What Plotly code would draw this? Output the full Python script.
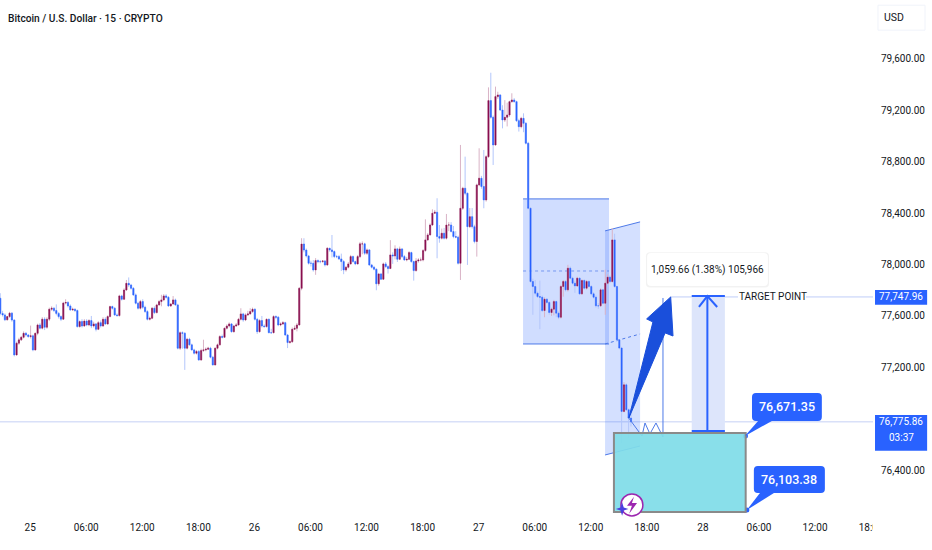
# BTCUSD 15 min chart with drawn target setup
import plotly.graph_objects as go

FONT = "Roboto"
TEXT = "#131722"
BLUE = "#2962ff"
LINE_BLUE = "#4d79e8"
UP = "#880e4f"
UP_WICK = "#d9b3c6"
DOWN = "#2962ff"
DOWN_WICK = "#b3c6fb"

first_open = 77738
closes = [
    77620, 77608, 77570, 77595, 77622, 77568, 77297, 77388, 77414, 77434,
    77465, 77452, 77440, 77445, 77336, 77465, 77530, 77505, 77575, 77512,
    77575, 77652, 77660, 77642, 77620, 77595, 77575, 77700, 77705, 77678,
    77647, 77652, 77642, 77517, 77556, 77522, 77560, 77530, 77564, 77522,
    77538, 77496, 77548, 77522, 77574, 77538, 77595, 77673, 77660, 77608,
    77603, 77756, 77730, 77802, 77854, 77841, 77815, 77764, 77699, 77660,
    77712, 77668, 77634, 77574, 77582, 77660, 77626, 77686, 77712, 77725,
    77756, 77745, 77678, 77693, 77725, 77686, 77349, 77470, 77465, 77349,
    77419, 77375, 77336, 77310, 77323, 77258, 77331, 77336, 77341, 77349,
    77279, 77219, 77349, 77375, 77440, 77434, 77504, 77522, 77538, 77478,
    77522, 77530, 77574, 77616, 77569, 77608, 77616, 77634, 77652, 77574,
    77478, 77564, 77522, 77517, 77574, 77470, 77470, 77595, 77590, 77530,
    77538, 77548, 77452, 77393, 77400, 77496, 77504, 77530, 77815, 78160,
    78113, 78067, 78010, 78010, 77958, 78031, 78023, 78023, 78028, 77997,
    78127, 78114, 78101, 78062, 78062, 78044, 78023, 77958, 77979, 78005,
    78062, 78023, 78005, 78062, 78161, 78161, 78088, 78114, 77997, 77979,
    77964, 77850, 77927, 77886, 78005, 77984, 77969, 78075, 78067, 78122,
    78041, 78122, 78062, 78036, 78041, 78093, 78023, 77953, 78028, 78036,
    78036, 78109, 78192, 78231, 78308, 78399, 78407, 78218, 78205, 78244,
    78205, 78308, 78308, 78257, 78218, 78213, 78010, 78438, 78594, 78555,
    78295, 78373, 78295, 78179, 78620, 78672, 78607, 78503, 78840, 79276,
    79146, 78931, 79307, 79320, 79203, 79125, 79146, 79164, 79268, 79281,
    79268, 79120, 79073, 79138, 79099, 78944, 78438, 77868, 77829, 77777,
    77751, 77746, 77642, 77730, 77705, 77627, 77653, 77712, 77622, 77590,
    77829, 77868, 77803, 77972, 77894, 77855, 77834, 77894, 77772, 77876,
    77816, 77868, 77829, 77772, 77746, 77679, 77679, 77803, 77699, 77855,
    77902, 77868, 78192, 77829, 77414, 77350, 76857, 77064, 76870, 76805, 76776,
]
highs = [
    77777, 77640, 77620, 77600, 77632, 77630, 77575, 77400, 77430, 77445,
    77480, 77475, 77460, 77525, 77455, 77470, 77540, 77545, 77590, 77590,
    77590, 77665, 77675, 77670, 77690, 77630, 77605, 77710, 77730, 77715,
    77690, 77665, 77660, 77650, 77565, 77575, 77575, 77575, 77575, 77600,
    77555, 77545, 77560, 77565, 77590, 77590, 77605, 77680, 77680, 77670,
    77620, 77765, 77765, 77815, 77880, 77900, 77850, 77825, 77775, 77710,
    77725, 77730, 77680, 77645, 77595, 77670, 77675, 77695, 77725, 77765,
    77770, 77770, 77755, 77700, 77755, 77735, 77695, 77480, 77480, 77475,
    77430, 77430, 77385, 77345, 77335, 77335, 77345, 77415, 77355, 77360,
    77360, 77290, 77355, 77385, 77450, 77455, 77510, 77535, 77550, 77545,
    77530, 77545, 77585, 77660, 77625, 77620, 77640, 77660, 77665, 77660,
    77585, 77575, 77600, 77535, 77580, 77580, 77500, 77605, 77605, 77600,
    77550, 77560, 77555, 77460, 77410, 77510, 77525, 77545, 77825, 78205,
    78205, 78125, 78075, 78030, 78035, 78050, 78040, 78035, 78035, 78035,
    78135, 78125, 78230, 78110, 78075, 78075, 78085, 78035, 77990, 78020,
    78075, 78070, 78030, 78075, 78175, 78180, 78170, 78125, 78120, 78005,
    77990, 77970, 77935, 77935, 78015, 78020, 77995, 78190, 78095, 78150,
    78130, 78140, 78125, 78075, 78060, 78105, 78100, 78030, 78050, 78050,
    78055, 78120, 78352, 78245, 78320, 78430, 78425, 78516, 78308, 78280,
    78285, 78394, 78330, 78330, 78300, 78260, 78225, 78931, 78605, 78840,
    78560, 78440, 78440, 78310, 78630, 78905, 78690, 78892, 78850, 79379,
    79493, 79160, 79385, 79345, 79325, 79240, 79280, 79260, 79275, 79333,
    79295, 79275, 79135, 79150, 79177, 79110, 78955, 78445, 77890, 77880,
    77790, 77875, 77760, 77745, 77740, 77715, 77665, 77725, 77720, 77635,
    77840, 77880, 77880, 77998, 77985, 77905, 77875, 77905, 77900, 77885,
    77885, 77880, 77880, 77840, 77785, 77760, 77700, 77815, 77810, 77960,
    77925, 77915, 78283, 78240, 77835, 77420, 77360, 77085, 77075, 76880, 76880,
]
lows = [
    77605, 77595, 77560, 77565, 77585, 77555, 77285, 77290, 77375, 77405,
    77425, 77440, 77430, 77425, 77325, 77330, 77450, 77495, 77495, 77490,
    77500, 77560, 77640, 77630, 77605, 77580, 77560, 77570, 77690, 77665,
    77640, 77640, 77630, 77510, 77510, 77510, 77515, 77520, 77520, 77505,
    77510, 77480, 77490, 77510, 77515, 77530, 77530, 77590, 77650, 77600,
    77595, 77595, 77720, 77725, 77795, 77825, 77805, 77755, 77690, 77650,
    77650, 77655, 77625, 77565, 77565, 77575, 77615, 77620, 77680, 77675,
    77715, 77735, 77670, 77670, 77690, 77680, 77340, 77335, 77345, 77180,
    77340, 77370, 77330, 77300, 77300, 77250, 77250, 77320, 77325, 77335,
    77270, 77215, 77215, 77340, 77370, 77425, 77430, 77495, 77510, 77470,
    77470, 77515, 77525, 77565, 77555, 77560, 77600, 77610, 77625, 77565,
    77460, 77470, 77510, 77510, 77510, 77465, 77460, 77465, 77575, 77520,
    77520, 77530, 77445, 77350, 77385, 77390, 77490, 77480, 77525, 77800,
    78095, 78055, 78000, 77985, 77945, 77920, 78010, 78010, 78015, 77985,
    77990, 78100, 78055, 78050, 78050, 78035, 77950, 77925, 77945, 77970,
    78000, 78015, 77995, 78000, 78050, 78080, 78075, 78075, 77990, 77970,
    77955, 77800, 77835, 77880, 77880, 77975, 77930, 77965, 78005, 78040,
    78020, 78035, 78050, 78030, 78025, 78035, 78015, 77875, 77945, 78015,
    78025, 78025, 78100, 78185, 78225, 78300, 78395, 78049, 78170, 78195,
    78195, 78195, 78260, 78250, 78205, 78205, 78000, 77880, 78425, 78540,
    77997, 78285, 78280, 78165, 78062, 78610, 78590, 78438, 78490, 78830,
    79135, 78775, 78925, 79290, 79195, 79060, 79110, 79075, 79150, 79260,
    79260, 79110, 79035, 79060, 79030, 78935, 78430, 77860, 77609, 77760,
    77740, 77497, 77630, 77590, 77695, 77610, 77600, 77605, 77590, 77575,
    77580, 77750, 77790, 77790, 77885, 77845, 77780, 77825, 77765, 77765,
    77805, 77805, 77820, 77760, 77735, 77665, 77655, 77670, 77690, 77609,
    77845, 77855, 77860, 77820, 77400, 77340, 76610, 76850, 76860, 76650, 76740,
]
opens = [first_open] + closes[:-1]
bars = list(range(len(closes)))

x_tick_bars = [12.8, 36.8, 60.8, 84.8, 108.8, 132.8, 156.8, 180.8, 204.8, 228.8,
               252.8, 276.8, 300.8, 324.8, 348.8, 372.8]
x_tick_text = ["25", "06:00", "12:00", "18:00", "26", "06:00", "12:00", "18:00", "27",
               "06:00", "12:00", "18:00", "28", "06:00", "12:00", "18:00"]
y_ticks = [79600, 79200, 78800, 78400, 78000, 77600, 77200, 76400]

last_price = 76775.86
target_price = 77747.96

# drawings on the chart
box_bars = [223.8, 260.6]
box_prices = [77382, 77950, 78511]
channel_bars = [258.9, 273.9]
channel_top = [78262, 78332]
channel_mid = [77382, 77460]
channel_bottom = [76518, 76588]
target_bars = [296.0, 302.7, 310.2]
target_prices = [76705, 77755]
chevron_bars = [299.1, 302.7, 306.9]
chevron_prices = [77670, 77755, 77670]
target_line_bars = [[287.0, 296.0], [310.2, 315.8], [344.9, 373.6]]
teal_bars = [262.7, 319.1]
teal_prices = [76075, 76690]
arrow_bars = [269.1, 284.6, 288.0, 287.0, 276.7, 279.4, 269.1]
arrow_prices = [76806, 77468, 77444, 77748, 77577, 77553, 76806]
zigzag_bars = [268.7, 274.7, 276.0, 278.1, 280.7, 283.7, 283.7]
zigzag_prices = [76814, 76666, 76767, 76682, 76767, 76658, 77740]
dot_bars = [319.0, 319.6]
dot_prices = [76666, 76090]
callout_values = ["76,671.35", "76,103.38"]
callout_bars = [[321.8, 351.7], [322.6, 353.0]]
callout_prices = [[76783, 77001], [76223, 76433]]
callout_tails = [[324.4, 330.3, 318.8], [325.2, 331.2, 319.6]]
callout_tail_prices = [[76783, 76783, 76666], [76223, 76223, 76090]]
tooltip_bars = [276.9, 328.6]
tooltip_prices = [77833, 78090]
icon_bars = [265.7, 275.1]
icon_prices = [76044, 76215]
bolt_bars = [271.3, 268.3, 270.4, 269.2, 272.6, 270.4, 271.3]
bolt_prices = [76192, 76122, 76122, 76060, 76145, 76145, 76192]
star_bars = [266.2, 266.9, 268.9, 266.9, 266.2, 265.5, 263.5, 265.5, 266.2]
star_prices = [76150, 76110, 76098, 76086, 76046, 76086, 76098, 76110, 76150]


def rounded(x0, x1, y0, y1, rx=1.7, ry=31):
    return (f"M {x0+rx} {y0} L {x1-rx} {y0} Q {x1} {y0} {x1} {y0+ry} L {x1} {y1-ry} "
            f"Q {x1} {y1} {x1-rx} {y1} L {x0+rx} {y1} Q {x0} {y1} {x0} {y1-ry} "
            f"L {x0} {y0+ry} Q {x0} {y0} {x0+rx} {y0} Z")


def polygon(xs, ys):
    pts = " L ".join(f"{x} {y}" for x, y in zip(xs, ys))
    return f"M {pts} Z"


fig = go.Figure()

# wicks first, then the bodies on top in the stronger colours
fig.add_trace(go.Candlestick(
    x=bars, open=opens, high=highs, low=lows, close=closes,
    whiskerwidth=0,
    increasing=dict(line=dict(color=UP_WICK, width=1), fillcolor=UP_WICK),
    decreasing=dict(line=dict(color=DOWN_WICK, width=1), fillcolor=DOWN_WICK),
))
fig.add_trace(go.Candlestick(
    x=bars, open=opens, close=closes,
    high=[max(o, c) for o, c in zip(opens, closes)],
    low=[min(o, c) for o, c in zip(opens, closes)],
    whiskerwidth=0,
    increasing=dict(line=dict(color=UP, width=0.4), fillcolor=UP),
    decreasing=dict(line=dict(color=DOWN, width=0.4), fillcolor=DOWN),
))

fig.add_trace(go.Scatter(x=zigzag_bars, y=zigzag_prices, mode="lines",
                         line=dict(color=LINE_BLUE, width=1)))
fig.add_trace(go.Scatter(x=arrow_bars, y=arrow_prices, mode="lines", fill="toself",
                         fillcolor="#1a4fdb", line=dict(color="#1a4fdb", width=1)))

shapes = []
# current price line
shapes.append(dict(type="line", layer="below", x0=0, x1=1, xref="paper", y0=last_price, y1=last_price,
                   line=dict(color="#c5d0f5", width=1)))
# blue box
shapes.append(dict(type="rect", layer="below", x0=box_bars[0], x1=box_bars[1], y0=box_prices[0], y1=box_prices[2],
                   fillcolor="rgba(41,98,255,0.22)", line=dict(width=0)))
for p, dash, w in zip(box_prices, ["solid", "3px,3px", "solid"], [1, 0.7, 1]):
    shapes.append(dict(type="line", layer="below", x0=box_bars[0], x1=box_bars[1], y0=p, y1=p,
                       line=dict(color=LINE_BLUE, width=w, dash=dash)))
# channel
shapes.append(dict(type="path", layer="below", fillcolor="rgba(41,98,255,0.2)", line=dict(width=0),
                   path=polygon([channel_bars[0], channel_bars[1], channel_bars[1], channel_bars[0]],
                                [channel_top[0], channel_top[1], channel_bottom[1], channel_bottom[0]])))
for ends, dash in zip([channel_top, channel_mid, channel_bottom], ["solid", "3px,3px", "solid"]):
    shapes.append(dict(type="line", layer="below", x0=channel_bars[0], x1=channel_bars[1], y0=ends[0], y1=ends[1],
                       line=dict(color=LINE_BLUE, width=1, dash=dash)))
# long position block
shapes.append(dict(type="rect", layer="below", x0=target_bars[0], x1=target_bars[2],
                   y0=target_prices[0], y1=target_prices[1], fillcolor="#dde5fb", line=dict(width=0)))
shapes.append(dict(type="line", x0=target_bars[1], x1=target_bars[1], y0=target_prices[0], y1=target_prices[1],
                   line=dict(color=BLUE, width=2)))
for p in target_prices:
    shapes.append(dict(type="line", x0=target_bars[0], x1=target_bars[2], y0=p, y1=p,
                       line=dict(color=BLUE, width=2)))
shapes.append(dict(type="path", path=f"M {chevron_bars[0]} {chevron_prices[0]} L {chevron_bars[1]} {chevron_prices[1]} L {chevron_bars[2]} {chevron_prices[2]}",
                   line=dict(color=BLUE, width=2)))
for seg in target_line_bars:
    shapes.append(dict(type="line", layer="below", x0=seg[0], x1=seg[1], y0=target_price, y1=target_price,
                       line=dict(color="#bfcdf8", width=1)))
# teal box
shapes.append(dict(type="rect", x0=teal_bars[0], x1=teal_bars[1], y0=teal_prices[0], y1=teal_prices[1],
                   fillcolor="rgba(128,221,232,0.93)", line=dict(color="#8a8a8a", width=2)))
# callouts
for i in range(2):
    shapes.append(dict(type="path", fillcolor=BLUE, line=dict(width=0),
                       path=polygon(callout_tails[i], callout_tail_prices[i])))
    shapes.append(dict(type="path", fillcolor=BLUE, line=dict(width=0),
                       path=rounded(callout_bars[i][0], callout_bars[i][1], callout_prices[i][0], callout_prices[i][1])))
# tooltip, a soft shadow then the box
shapes.append(dict(type="path", fillcolor="rgba(0,0,0,0.05)", line=dict(width=0),
                   path=rounded(tooltip_bars[0] - 0.5, tooltip_bars[1] + 0.5, tooltip_prices[0] - 12, tooltip_prices[1] + 5)))
shapes.append(dict(type="path", fillcolor="white", line=dict(width=0),
                   path=rounded(tooltip_bars[0], tooltip_bars[1], tooltip_prices[0], tooltip_prices[1])))
# lightning icon
shapes.append(dict(type="circle", x0=icon_bars[0], x1=icon_bars[1], y0=icon_prices[0], y1=icon_prices[1],
                   fillcolor="white", line=dict(color="#9c27b0", width=1.5)))
shapes.append(dict(type="path", path=polygon(bolt_bars, bolt_prices), fillcolor="#9c27b0", line=dict(width=0)))
shapes.append(dict(type="path", path=polygon(star_bars, star_prices), fillcolor="#4a3fe0", line=dict(width=0)))
# right scale labels
shapes.append(dict(type="rect", xref="paper", x0=1.0023, x1=1.062, y0=77688, y1=77802,
                   fillcolor=BLUE, line=dict(width=0)))
shapes.append(dict(type="rect", xref="paper", x0=1.0023, x1=1.062, y0=76550, y1=76830,
                   fillcolor=BLUE, line=dict(width=0)))
shapes.append(dict(type="rect", xref="paper", yref="paper", x0=1.0057, x1=1.0596, y0=0.942, y1=0.99,
                   fillcolor="white", line=dict(color="#f0f3fa", width=1)))
# the price scale panel cuts the last time label
shapes.append(dict(type="rect", xref="paper", yref="paper", x0=1.0, x1=1.04, y0=-0.058, y1=0,
                   fillcolor="white", line=dict(width=0)))

fig.add_trace(go.Scatter(x=dot_bars, y=dot_prices, mode="markers",
                         marker=dict(color=BLUE, size=5)))

annotations = [
    dict(x=6 / 873, y=0.965, xref="paper", yref="paper", text="Bitcoin / U.S. Dollar · 15 · CRYPTO",
         xanchor="left", yanchor="middle", showarrow=False, font=dict(size=10.2, weight=500, color=TEXT, family=FONT)),
    dict(x=894 / 873, y=0.966, xref="paper", yref="paper", text="USD", xanchor="center", yanchor="middle", showarrow=False,
         font=dict(size=10.5, color=TEXT, family=FONT)),
    dict(x=sum(tooltip_bars) / 2, y=sum(tooltip_prices) / 2, text="1,059.66 (1.38%) 105,966", showarrow=False,
         font=dict(size=10, color=TEXT, family=FONT)),
    dict(x=773 / 873, y=target_price, xref="paper", xanchor="center", text="TARGET POINT", showarrow=False,
         font=dict(size=10, color=TEXT, family=FONT)),
    dict(x=901 / 873, y=target_price, xref="paper", xanchor="center", text="77,747.96", showarrow=False,
         font=dict(size=10, color="white", family=FONT)),
    dict(x=901 / 873, y=76775.86, xref="paper", xanchor="center", text="76,775.86", showarrow=False,
         font=dict(size=10, color="white", family=FONT)),
    dict(x=901 / 873, y=76655, xref="paper", xanchor="center", text="03:37", showarrow=False,
         font=dict(size=10, color="white", family=FONT)),
]
for i in range(2):
    annotations.append(dict(x=sum(callout_bars[i]) / 2, y=sum(callout_prices[i]) / 2, text=callout_values[i],
                            showarrow=False, font=dict(size=12.5, weight=500, color="white", family=FONT)))

fig.update_layout(
    width=932, height=550,
    margin=dict(l=0, r=59, t=0, b=30),
    paper_bgcolor="white", plot_bgcolor="white",
    showlegend=False,
    shapes=shapes, annotations=annotations,
    font=dict(family=FONT, size=10, color=TEXT),
)
fig.update_xaxes(range=[-0.1, 373.6], tickmode="array", tickvals=x_tick_bars, ticktext=x_tick_text,
                 showgrid=False, zeroline=False, showline=False, ticks="", rangeslider_visible=False)
fig.update_yaxes(range=[76012, 80059], side="right", tickmode="array", tickvals=y_ticks, tickformat=",.2f",
                 showgrid=False, zeroline=False, showline=False, ticks="", ticklabelstandoff=7)

# default page body has an 8px margin
fig.write_html("out.html", config=dict(displayModeBar=False), post_script="document.body.style.margin='0';")
